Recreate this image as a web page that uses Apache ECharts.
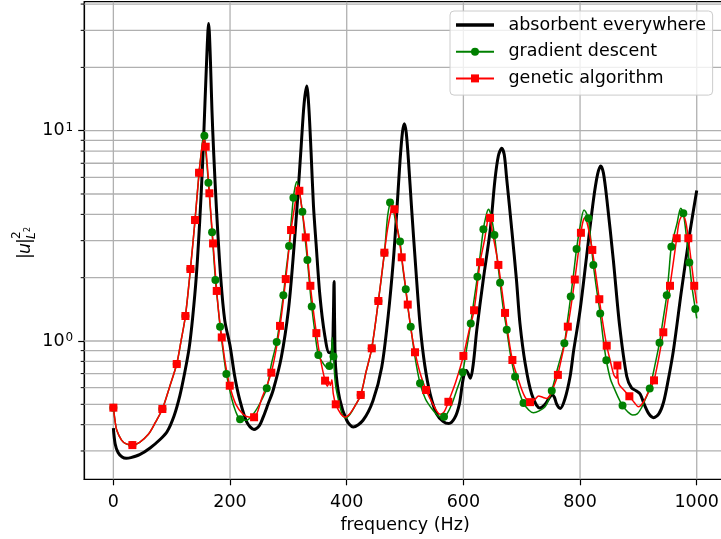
<!DOCTYPE html>
<html>
<head>
<meta charset="utf-8">
<script src="https://cdn.jsdelivr.net/npm/echarts@6/dist/echarts.min.js"></script>
<style>
html,body{margin:0;padding:0;background:#fff;}
#chart{width:721px;height:539px;}
</style>
</head>
<body>
<div id="chart"></div>
<script>
// ---------- data ----------
const xTicks = [0, 200, 400, 600, 800, 1000];
const yMajorTicks = [1, 10];
const yMinorTicks = [0.3, 0.4, 0.5, 0.6, 0.7, 0.8, 0.9, 2, 3, 4, 5, 6, 7, 8, 9, 20, 30, 40];

// absorbent everywhere (black)
const blackF = [0, 3, 8, 15, 22, 30, 45, 63, 80, 92, 104, 114, 122, 130, 136, 142, 148, 153, 157, 160, 162, 163.2, 164.5, 166.5, 169, 172, 177, 184, 191, 200, 208, 217, 229, 241, 250, 257, 265, 274, 288, 300, 308, 316, 322, 327, 331.5, 335, 339, 343, 347.5, 354, 362, 370, 375, 377, 378.3, 379.3, 381, 388, 400, 411, 428, 445, 460, 471, 480, 486, 491.4, 495.5, 498.8, 502, 505.7, 511.4, 519, 526, 534, 543, 554, 565, 575, 585, 593, 598, 602, 605, 612, 617, 623, 634, 646, 654, 660, 665.7, 670, 674, 683, 691, 697, 706, 717, 731, 740, 746, 752, 756, 760, 766, 774, 783, 789, 800, 811, 823, 830, 835.4, 840, 846, 857, 868, 880, 888, 896, 903, 910, 918, 926, 935, 943, 951, 960, 974, 988, 1000];
const blackV = [0.385, 0.325, 0.295, 0.281, 0.277, 0.279, 0.288, 0.31, 0.34, 0.37, 0.44, 0.55, 0.70, 0.93, 1.3, 2.0, 3.7, 7.0, 13.5, 22, 29.5, 32.3, 29.5, 21, 12.5, 7.8, 4.1, 2.0, 1.25, 0.95, 0.68, 0.52, 0.41, 0.38, 0.395, 0.436, 0.5, 0.585, 0.84, 1.40, 2.45, 4.8, 8.5, 13.5, 16.3, 13, 7.8, 4.4, 2.9, 1.65, 1.08, 0.88, 0.89, 1.25, 1.92, 1.2, 0.75, 0.53, 0.42, 0.39, 0.42, 0.52, 0.75, 1.31, 2.43, 4.2, 7.2, 9.8, 10.8, 9.8, 7.3, 4.2, 2.1, 1.17, 0.76, 0.56, 0.45, 0.415, 0.405, 0.43, 0.5, 0.62, 0.71, 0.725, 0.665, 0.78, 1.13, 1.95, 3.37, 5.8, 7.6, 8.25, 7.7, 6.0, 3.37, 1.95, 1.21, 0.78, 0.56, 0.48, 0.50, 0.53, 0.555, 0.54, 0.50, 0.478, 0.53, 0.68, 0.9, 1.4, 2.5, 4.7, 6.2, 6.8, 6.3, 4.7, 2.43, 1.17, 0.68, 0.6, 0.58, 0.56, 0.5, 0.45, 0.432, 0.45, 0.51, 0.65, 0.9, 1.75, 3.25, 5.2];

// gradient descent (green): line points and marker points
const gdLineF = [3, 6, 14, 22, 45, 60, 72, 96, 116, 151, 153.5, 155.2, 159, 178.5, 188, 203, 210, 228, 240, 252, 271, 286, 296, 305, 311.5, 314.3, 318, 328, 336, 345.5, 360, 366, 373.5, 375.3, 376.5, 380, 383, 392, 398, 406, 414, 433, 470, 476, 483, 496, 505.5, 517, 535, 545, 555, 561, 572, 580, 590, 605, 618, 629, 638.5, 642.8, 647, 658, 668, 681, 696, 712, 720, 730, 740, 746, 762, 778.5, 789, 800, 806.8, 810, 818.5, 828.5, 839.5, 852, 858, 864, 882, 890, 898, 905, 912, 928, 942, 952.5, 966, 972.6, 982, 992, 1000];
const gdLineV = [0.415, 0.375, 0.338, 0.324, 0.33, 0.36, 0.41, 0.60, 1.0, 8.0, 9.2, 9.6, 7.6, 1.55, 0.9, 0.53, 0.46, 0.42, 0.45, 0.51, 0.78, 1.28, 2.15, 3.75, 5.4, 5.72, 5.3, 3.2, 1.9, 1.1, 0.78, 0.75, 0.86, 1.04, 0.9, 0.65, 0.57, 0.45, 0.43, 0.45, 0.49, 0.71, 3.9, 4.65, 3.8, 2.25, 1.4, 0.84, 0.53, 0.48, 0.445, 0.435, 0.45, 0.5, 0.6, 0.9, 1.55, 2.6, 3.9, 4.23, 4.0, 2.45, 1.45, 0.85, 0.57, 0.47, 0.456, 0.465, 0.487, 0.525, 0.75, 1.25, 2.1, 3.5, 4.2, 4.1, 3.0, 1.75, 1.03, 0.66, 0.6, 0.55, 0.46, 0.445, 0.45, 0.48, 0.53, 0.76, 1.25, 2.15, 3.6, 4.28, 3.2, 1.8, 1.28];
const gdMarkF = [0, 32.6, 84, 108.6, 123.5, 132.1, 140, 146.9, 156, 162.9, 169.2, 174.9, 182.9, 193.7, 217.2, 262.9, 280, 291.4, 301.2, 308.6, 324, 332.6, 340, 351.4, 370.3, 377.3, 424, 442.9, 454.3, 464.6, 474.3, 491.4, 501.2, 509.7, 525.7, 566.8, 598.8, 612.6, 624, 634.3, 653.2, 662.9, 674.3, 688.6, 703, 751.5, 773.1, 784, 794, 814.2, 822.8, 834.5, 845, 872.8, 919.4, 936.2, 948.6, 956.5, 977, 987.3, 997.5];
const gdMarkV = [0.482, 0.320, 0.475, 0.777, 1.315, 2.20, 3.76, 6.31, 9.47, 5.66, 3.29, 1.95, 1.17, 0.697, 0.424, 0.596, 0.99, 1.65, 2.83, 4.80, 4.12, 2.43, 1.46, 0.858, 0.76, 0.845, 0.554, 0.923, 1.55, 2.63, 4.55, 2.97, 1.76, 1.17, 0.629, 0.436, 0.71, 1.21, 2.02, 3.40, 3.19, 1.89, 1.13, 0.676, 0.507, 0.58, 0.975, 1.63, 2.74, 3.83, 2.30, 1.35, 0.81, 0.493, 0.594, 0.982, 1.65, 2.81, 4.05, 2.36, 1.42];

// genetic algorithm (red): line points and marker points
const gaLineF = [3, 6, 14, 22, 45, 60, 72, 96, 116, 151, 153.5, 156, 161.5, 181, 192, 210, 222, 232, 255, 312, 316.5, 324, 355, 367, 370, 372, 374.5, 377, 390, 397, 405, 414, 433, 470, 476, 479, 487, 510, 526, 548, 560, 567, 587, 609, 636, 642, 644.5, 652, 698, 706, 722, 729, 736, 743, 750, 756, 805, 808.5, 812, 815, 839, 852, 858, 862.5, 866, 875, 893, 900, 908, 917, 970, 976, 981, 1000];
const gaLineV = [0.415, 0.375, 0.338, 0.324, 0.33, 0.36, 0.41, 0.60, 1.0, 8.0, 8.8, 9.1, 6.6, 1.33, 0.78, 0.50, 0.45, 0.435, 0.54, 4.6, 5.5, 4.1, 0.82, 0.61, 0.64, 0.615, 0.655, 0.56, 0.45, 0.435, 0.45, 0.49, 0.71, 3.4, 4.15, 4.38, 3.4, 1.14, 0.70, 0.50, 0.448, 0.46, 0.64, 1.1, 3.0, 3.8, 3.97, 3.05, 0.61, 0.54, 0.525, 0.548, 0.54, 0.533, 0.56, 0.62, 3.7, 3.85, 3.65, 3.35, 1.22, 0.8, 0.69, 0.665, 0.63, 0.585, 0.51, 0.487, 0.51, 0.57, 3.7, 3.97, 3.7, 1.51];
const gaMarkF = [0, 32.6, 84, 108.6, 123.5, 132.1, 140, 146.9, 158.3, 164.6, 170.9, 177.2, 185.8, 199.5, 241.2, 270.8, 285.7, 295.5, 304.6, 318.8, 329.8, 337.7, 348, 362.9, 381.2, 424, 442.9, 454.3, 464.6, 481.7, 494.3, 504.6, 517.1, 536, 574.3, 600, 618.3, 628.6, 645.7, 660, 671.4, 684, 714.3, 762, 779, 791, 801.5, 821, 833, 845.7, 864, 884.5, 926.8, 942.7, 954.2, 965.7, 985.6, 995.7];
const gaMarkV = [0.482, 0.320, 0.475, 0.777, 1.315, 2.20, 3.76, 6.31, 8.39, 5.04, 2.91, 1.73, 1.04, 0.613, 0.434, 0.707, 1.18, 1.97, 3.37, 5.18, 3.11, 1.83, 1.09, 0.648, 0.500, 0.554, 0.923, 1.55, 2.63, 4.23, 2.50, 1.49, 0.884, 0.585, 0.514, 0.849, 1.40, 2.37, 3.85, 2.30, 1.36, 0.812, 0.512, 0.69, 1.17, 1.96, 3.27, 2.71, 1.58, 0.95, 0.765, 0.546, 0.65, 1.10, 1.83, 3.08, 3.08, 1.83];

// ---------- chart ----------
const FONT = 'DejaVu Sans';
const X_MIN = -50, X_MAX = 1050, Y_MIN = 0.22, Y_MAX = 41.05;

function buildMarked(lineF, lineV, markF, markV) {
  const pts = [];
  lineF.forEach((f, i) => pts.push({ value: [f, lineV[i]], symbol: 'none' }));
  markF.forEach((f, i) => pts.push({ value: [f, markV[i]] }));
  pts.sort((a, b) => a.value[0] - b.value[0]);
  return pts;
}

const chart = echarts.init(document.getElementById('chart'), null, { renderer: 'canvas' });

const option = {
  animation: false,
  backgroundColor: '#ffffff',
  grid: {
    left: 84.2, right: -4.9, top: 1.7, bottom: 59.7,
    show: true, borderColor: '#000', borderWidth: 1.2, backgroundColor: 'transparent',
    containLabel: false, outerBoundsMode: 'none'
  },
  legend: {
    orient: 'vertical', left: 450, top: 11, z: 10,
    padding: [4, 6.7, 6.7, 5],
    itemWidth: 38, itemHeight: 10, itemGap: 6.7,
    backgroundColor: 'rgba(255,255,255,0.8)', borderColor: '#cccccc', borderWidth: 1, borderRadius: 4,
    textStyle: { fontSize: 17.5, fontFamily: FONT, color: '#000', lineHeight: 20, padding: [0, 0, 0, 9.5] },
    data: [
      { name: 'absorbent everywhere', icon: 'path://M0,0L38,0L38,3.4L0,3.4Z' },
      'gradient descent',
      'genetic algorithm'
    ]
  },
  xAxis: {
    type: 'value', min: X_MIN, max: X_MAX,
    axisLine: { show: true, onZero: false, lineStyle: { color: '#000', width: 1.2 } },
    axisTick: { show: true, customValues: xTicks, length: 6, lineStyle: { color: '#000', width: 1.2 } },
    axisLabel: { customValues: xTicks, fontSize: 17.5, fontFamily: FONT, color: '#000', margin: 14,
      formatter: function (v) { return String(v); } },
    splitLine: { show: false },
    name: 'frequency (Hz)', nameLocation: 'middle', nameGap: 37,
    nameTextStyle: { fontSize: 17.5, fontFamily: FONT, color: '#000' }
  },
  yAxis: {
    type: 'log', logBase: 10, min: Y_MIN, max: Y_MAX,
    axisLine: { show: true, onZero: false, lineStyle: { color: '#000', width: 1.2 } },
    axisTick: { show: true, customValues: yMajorTicks, length: 6, lineStyle: { color: '#000', width: 1.2 } },
    axisLabel: {
      customValues: yMajorTicks, margin: 11, color: '#000',
      formatter: function (v) { return '{b|10}{s|' + Math.round(Math.log10(v)) + '}'; },
      rich: {
        b: { fontSize: 17.5, fontFamily: FONT, color: '#000' },
        s: { fontSize: 12, fontFamily: FONT, color: '#000', verticalAlign: 'top', padding: [0, 0, 0, 1] }
      }
    },
    splitLine: { show: false },
    minorTick: { show: false }, minorSplitLine: { show: false }
  },
  graphic: [{
    type: 'group', x: 25, y: 245, rotation: Math.PI / 2,
    children: [
      { type: 'text', x: -14, y: 0, style: { text: '|', fontSize: 17.5, fontFamily: FONT, fill: '#000', textAlign: 'left', textVerticalAlign: 'middle' } },
      { type: 'text', x: -9, y: 0, style: { text: 'u', fontSize: 17.5, fontFamily: FONT, fontStyle: 'italic', fill: '#000', textAlign: 'left', textVerticalAlign: 'middle' } },
      { type: 'text', x: 1, y: 0, style: { text: '|', fontSize: 17.5, fontFamily: FONT, fill: '#000', textAlign: 'left', textVerticalAlign: 'middle' } },
      { type: 'text', x: 6, y: -8, style: { text: '2', fontSize: 12, fontFamily: FONT, fill: '#000', textAlign: 'left', textVerticalAlign: 'middle' } },
      { type: 'text', x: 6, y: 7, style: { text: 'L', fontSize: 12, fontFamily: FONT, fontStyle: 'italic', fill: '#000', textAlign: 'left', textVerticalAlign: 'middle' } },
      { type: 'text', x: 13, y: 3, style: { text: '2', fontSize: 8, fontFamily: FONT, fill: '#000', textAlign: 'left', textVerticalAlign: 'middle' } }
    ]
  }],
  series: [
    {
      type: 'custom', name: 'hgrid', z: 1, silent: true, clip: false,
      data: yMajorTicks.concat(yMinorTicks).map(v => [0, v]),
      renderItem: function (params, api) {
        const v = api.value(1);
        const p0 = api.coord([X_MIN, v]);
        const p1 = api.coord([X_MAX, v]);
        const isMajor = yMajorTicks.indexOf(v) >= 0;
        const children = [
          { type: 'line', shape: { x1: p0[0], y1: p0[1], x2: p1[0], y2: p1[1] }, style: { stroke: '#b0b0b0', lineWidth: 1.3 } }
        ];
        if (!isMajor) {
          children.push({ type: 'line', shape: { x1: p0[0] - 3.5, y1: p0[1], x2: p0[0], y2: p0[1] }, style: { stroke: '#000', lineWidth: 1 } });
        }
        return { type: 'group', children: children };
      }
    },
    {
      type: 'custom', name: 'vgrid', z: 1, silent: true, clip: false,
      data: xTicks.map(f => [f, 1]),
      renderItem: function (params, api) {
        const f = api.value(0);
        const p0 = api.coord([f, Y_MIN]);
        const p1 = api.coord([f, Y_MAX]);
        return { type: 'line', shape: { x1: p0[0], y1: p0[1], x2: p1[0], y2: p1[1] }, style: { stroke: '#b0b0b0', lineWidth: 1.3 } };
      }
    },
    {
      type: 'line', name: 'absorbent everywhere', z: 2,
      data: blackF.map((f, i) => [f, blackV[i]]),
      symbol: 'none', showSymbol: false, smooth: 0.3,
      lineStyle: { color: '#000000', width: 3 }, itemStyle: { color: '#000000' }
    },
    {
      type: 'line', name: 'gradient descent', z: 2,
      data: buildMarked(gdLineF, gdLineV, gdMarkF, gdMarkV),
      symbol: 'circle', symbolSize: 8, showSymbol: true, showAllSymbol: true, smooth: 0.3,
      lineStyle: { color: '#008000', width: 1.5 }, itemStyle: { color: '#008000' }
    },
    {
      type: 'line', name: 'genetic algorithm', z: 2,
      data: buildMarked(gaLineF, gaLineV, gaMarkF, gaMarkV),
      symbol: 'rect', symbolSize: 8, showSymbol: true, showAllSymbol: true, smooth: 0.3,
      lineStyle: { color: '#ff0000', width: 1.5 }, itemStyle: { color: '#ff0000' }
    }
  ]
};
chart.setOption(option);
</script>
</body>
</html>
